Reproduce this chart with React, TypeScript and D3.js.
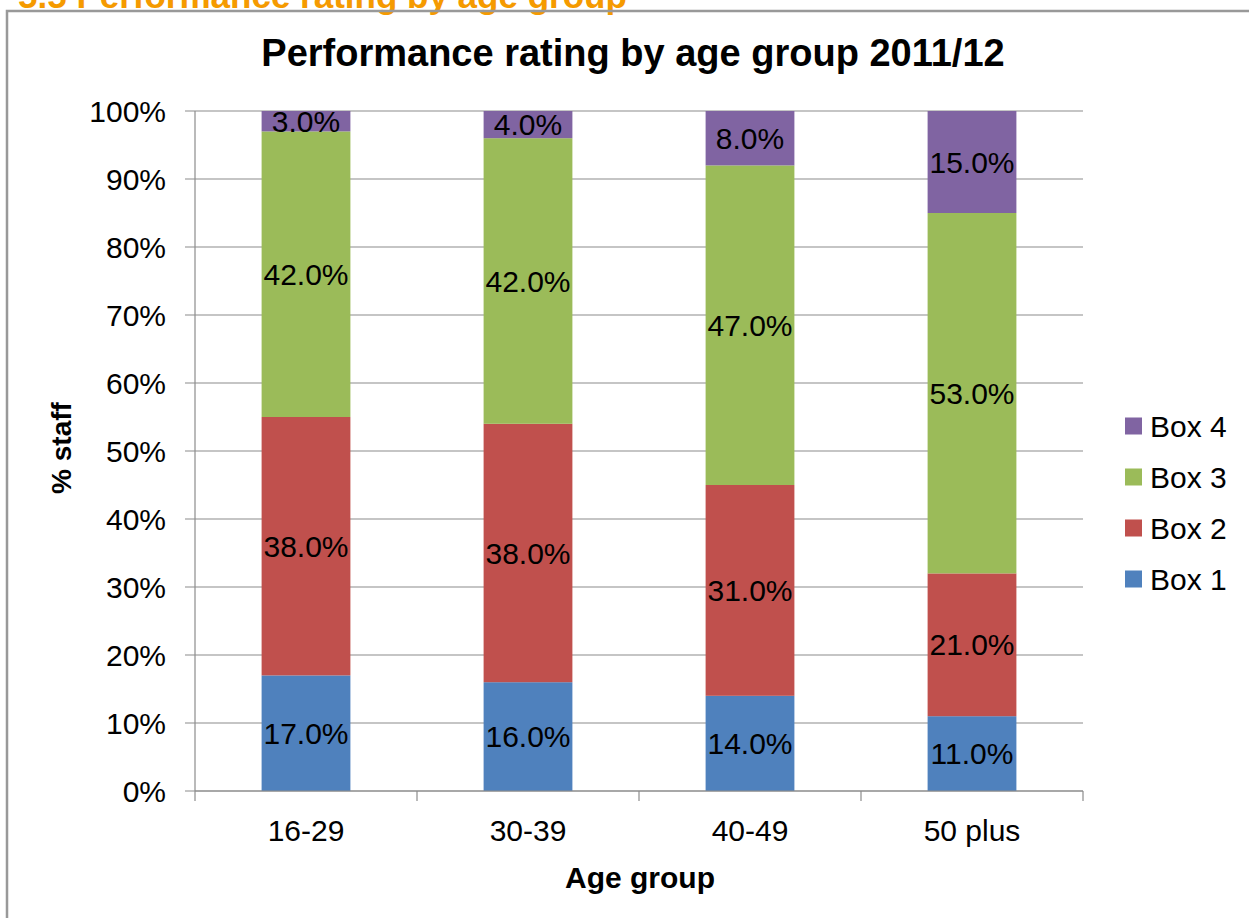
import React, { useEffect, useRef } from 'react';
import * as d3 from 'd3';

const ageGroups = ['16-29', '30-39', '40-49', '50 plus'];
const seriesNames = ['Box 1', 'Box 2', 'Box 3', 'Box 4'];
const box1 = [17, 16, 14, 11];
const box2 = [38, 38, 31, 21];
const box3 = [42, 42, 47, 53];
const box4 = [3, 4, 8, 15];
const colors = ['#4F81BD', '#C0504D', '#9BBB59', '#8064A2'];
const yTicks = [0, 10, 20, 30, 40, 50, 60, 70, 80, 90, 100];

const FONT = 'Liberation Sans, Arial, sans-serif';

const App = () => {
  const ref = useRef<SVGSVGElement>(null);

  useEffect(() => {
    const svg = d3.select(ref.current);
    svg.selectAll('*').remove();

    const left = 195, right = 1083, top = 111, bottom = 791;

    const x = d3.scaleBand().domain(ageGroups).range([left, right]).paddingInner(0.6).paddingOuter(0.3);
    const xAxisBand = d3.scaleBand().domain(ageGroups).range([left, right]);
    const y = d3.scaleLinear().domain([0, 100]).range([bottom, top]);

    // section caption at the top, cut off by the page edge like in the source
    svg.append('text')
      .attr('x', 18).attr('y', 8)
      .attr('font-family', FONT).attr('font-weight', 'bold').attr('font-size', 35)
      .attr('fill', '#F59A00')
      .text('5.5 Performance rating by age group');

    // frame
    svg.append('path')
      .attr('d', `M7,930 L7,11 L1260,11`)
      .attr('fill', 'none').attr('stroke', '#999').attr('stroke-width', 2.5);

    svg.append('text')
      .attr('x', 633).attr('y', 66)
      .attr('text-anchor', 'middle')
      .attr('font-family', FONT).attr('font-weight', 'bold').attr('font-size', 38)
      .text('Performance rating by age group 2011/12');

    // gridlines + y tick labels
    const g = svg.append('g');
    g.selectAll('.grid').data(yTicks).enter().append('line')
      .attr('x1', left - 10).attr('x2', right)
      .attr('y1', d => y(d)).attr('y2', d => y(d))
      .attr('stroke', '#8c8c8c').attr('stroke-width', 1.2);

    g.selectAll('.ytl').data(yTicks).enter().append('text')
      .attr('x', 166).attr('y', d => y(d))
      .attr('dy', '0.35em').attr('text-anchor', 'end')
      .attr('font-family', FONT).attr('font-size', 30)
      .text(d => `${d}%`);

    // y axis line
    g.append('line')
      .attr('x1', left).attr('x2', left).attr('y1', top).attr('y2', bottom)
      .attr('stroke', '#8c8c8c').attr('stroke-width', 1.2);

    // stacked bars
    const rows = ageGroups.map((a, i) => ({ group: a, 'Box 1': box1[i], 'Box 2': box2[i], 'Box 3': box3[i], 'Box 4': box4[i] }));
    const stacked = d3.stack<any>().keys(seriesNames)(rows);

    stacked.forEach((layer, si) => {
      const lg = svg.append('g');
      lg.selectAll('rect').data(layer).enter().append('rect')
        .attr('x', d => x(d.data.group)!)
        .attr('width', x.bandwidth())
        .attr('y', d => y(d[1]))
        .attr('height', d => y(d[0]) - y(d[1]))
        .attr('fill', colors[si]);
      lg.selectAll('text').data(layer).enter().append('text')
        .attr('x', d => x(d.data.group)! + x.bandwidth() / 2)
        .attr('y', d => (y(d[0]) + y(d[1])) / 2)
        .attr('dy', '0.35em').attr('text-anchor', 'middle')
        .attr('font-family', FONT).attr('font-size', 30)
        .text(d => `${(d[1] - d[0]).toFixed(1)}%`);
    });

    // x axis
    svg.append('line')
      .attr('x1', left).attr('x2', right).attr('y1', bottom).attr('y2', bottom)
      .attr('stroke', '#8c8c8c').attr('stroke-width', 1.2);
    const edges = ageGroups.map(a => xAxisBand(a)!).concat([right]);
    svg.selectAll('.xt').data(edges).enter().append('line')
      .attr('x1', d => d).attr('x2', d => d).attr('y1', bottom).attr('y2', bottom + 10)
      .attr('stroke', '#8c8c8c').attr('stroke-width', 1.2);
    svg.selectAll('.xtl').data(ageGroups).enter().append('text')
      .attr('x', d => xAxisBand(d)! + xAxisBand.bandwidth() / 2)
      .attr('y', 830).attr('dy', '0.35em').attr('text-anchor', 'middle')
      .attr('font-family', FONT).attr('font-size', 30)
      .text(d => d);

    svg.append('text')
      .attr('x', 640).attr('y', 877).attr('dy', '0.35em').attr('text-anchor', 'middle')
      .attr('font-family', FONT).attr('font-weight', 'bold').attr('font-size', 30)
      .text('Age group');

    svg.append('text')
      .attr('transform', 'translate(61,448) rotate(-90)')
      .attr('dy', '0.35em').attr('text-anchor', 'middle')
      .attr('font-family', FONT).attr('font-weight', 'bold').attr('font-size', 28)
      .text('% staff');

    // legend (Box 4 on top)
    const legendItems = seriesNames.map((n, i) => ({ n, c: colors[i] })).reverse();
    const lgd = svg.append('g');
    legendItems.forEach((it, i) => {
      const ly = 426 + i * 51;
      lgd.append('rect').attr('x', 1125).attr('y', ly - 8.5).attr('width', 17).attr('height', 17).attr('fill', it.c);
      lgd.append('text').attr('x', 1150).attr('y', ly).attr('dy', '0.35em')
        .attr('font-family', FONT).attr('font-size', 30).text(it.n);
    });
  }, []);

  return (
    <svg ref={ref} width={1249} height={918}
      style={{ position: 'absolute', left: 0, top: 0, background: '#fff' }} />
  );
};

export default App;
